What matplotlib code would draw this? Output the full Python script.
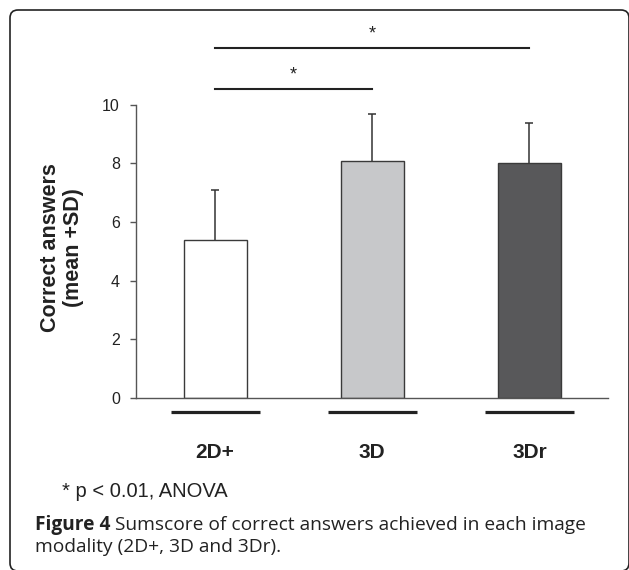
import matplotlib
matplotlib.use("Agg")
import matplotlib.pyplot as plt
from matplotlib.patches import FancyBboxPatch
from matplotlib.transforms import IdentityTransform

# data
modalities = ["2D+", "3D", "3Dr"]
means = [5.4, 8.1, 8.0]
sds = [1.7, 1.6, 1.4]
bar_colors = ["#ffffff", "#c7c8ca", "#58585a"]
yticks = [0, 2, 4, 6, 8, 10]
# significance brackets: (from, to, height)
sig_pairs = [(0, 1, 10.55), (0, 2, 11.95)]

plt.rcParams["font.family"] = ["Liberation Sans", "DejaVu Sans"]

fig = plt.figure(figsize=(6.29, 5.70), dpi=100)
ax = fig.add_axes([0.217, 0.3026, 0.7496, 0.5132])

x = list(range(len(modalities)))
ax.bar(x, means, width=0.4, color=bar_colors, edgecolor="#3a3a3a", linewidth=1.0, zorder=2)
# symmetric error bars drawn behind the bars, so only the upper half shows
ax.errorbar(x, means, yerr=sds, fmt="none", ecolor="#333333",
            elinewidth=1.1, capsize=3, capthick=1.1, zorder=1)

ax.set_xlim(-0.5, 2.5)
ax.set_ylim(0, 10)
ax.set_yticks(yticks)
ax.tick_params(axis="y", length=4, width=1, color="#555555", labelsize=11.5,
               labelcolor="#222222", pad=8)
ax.set_xticks(x)
ax.set_xticklabels(modalities, fontsize=15, fontweight="bold", color="#222222")
ax.tick_params(axis="x", length=0, pad=33)
for s in ["top", "right"]:
    ax.spines[s].set_visible(False)
for s in ["left", "bottom"]:
    ax.spines[s].set_color("#555555")
    ax.spines[s].set_linewidth(1.0)

# thick lines under each category
ax.hlines([-0.485] * len(x), [i - 0.283 for i in x], [i + 0.283 for i in x],
          colors="#222222", linewidth=2.3, clip_on=False)

# significance lines and stars
for a, b, h in sig_pairs:
    ax.plot([a, b], [h, h], color="#222222", linewidth=1.5, clip_on=False)
    ax.text((a + b) / 2, h + 0.2, "*", ha="center", va="bottom", fontsize=13,
            color="#222222", clip_on=False)

fig.text(62 / 629, 1 - 248 / 570, "Correct answers\n(mean +SD)", rotation=90,
         ha="center", va="center", fontsize=15.5, fontweight="bold",
         color="#222222", linespacing=1.1)

fig.text(62 / 629, 1 - 497 / 570, "* p < 0.01, ANOVA", ha="left", va="baseline",
         fontsize=14.5, color="#222222")

# caption
cap_font = ["Open Sans", "DejaVu Sans"]
t1 = fig.text(35 / 629, 1 - 530 / 570, "Figure 4", ha="left", va="baseline",
              fontsize=13.8, fontweight="bold", family=cap_font, color="#222222")
fig.canvas.draw()
bb = t1.get_window_extent()
fig.text((bb.x1 + 5) / 629, 1 - 530 / 570,
         "Sumscore of correct answers achieved in each image",
         ha="left", va="baseline", fontsize=13.8, family=cap_font, color="#222222")
fig.text(35 / 629, 1 - 552 / 570, "modality (2D+, 3D and 3Dr).", ha="left",
         va="baseline", fontsize=13.8, family=cap_font, color="#222222")

border = FancyBboxPatch((10, -1), 619, 561, boxstyle="round,pad=0,rounding_size=8",
                        transform=IdentityTransform(), facecolor="none",
                        edgecolor="#222222", linewidth=1.2)
fig.patches.append(border)

fig.savefig("out.png", dpi=100)
